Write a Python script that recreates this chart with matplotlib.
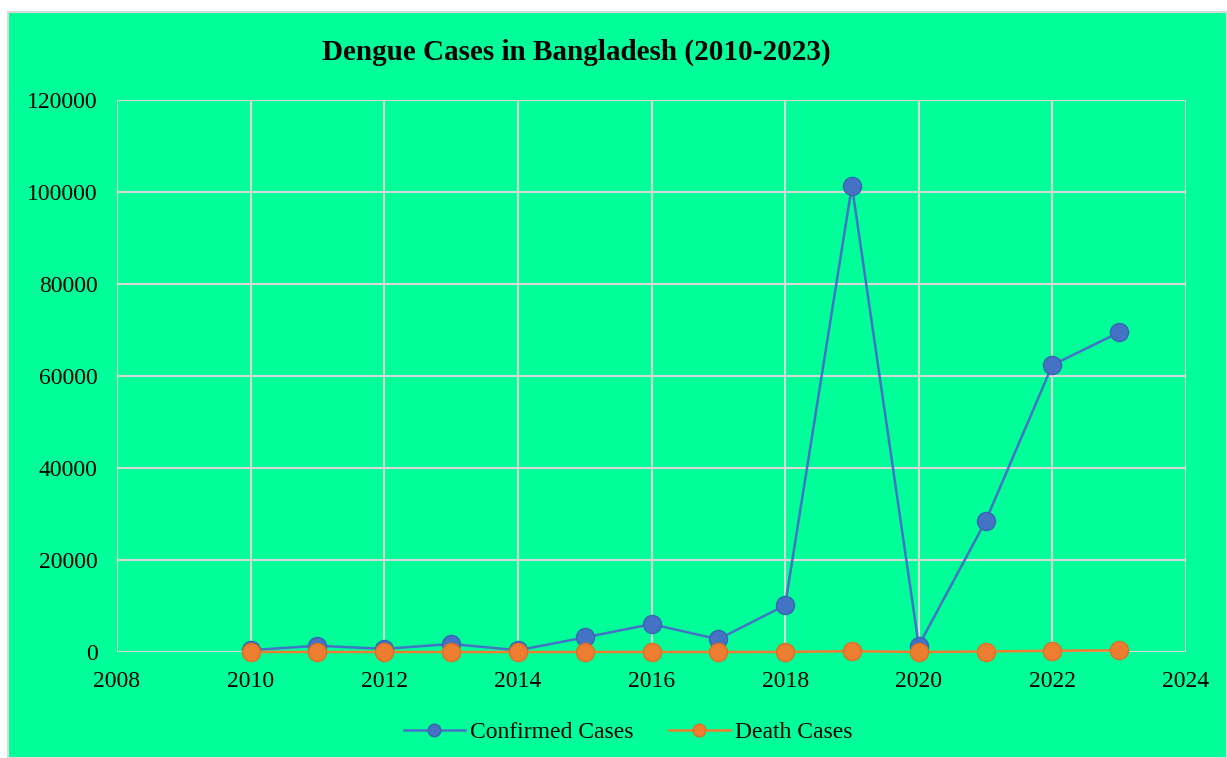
import matplotlib.pyplot as plt
from matplotlib.patches import Rectangle

years = [2010, 2011, 2012, 2013, 2014, 2015, 2016, 2017, 2018, 2019, 2020, 2021, 2022, 2023]
confirmed = [409, 1359, 671, 1749, 375, 3162, 6060, 2769, 10148, 101354, 1405, 28429, 62382, 69483]
deaths = [0, 6, 1, 2, 0, 6, 14, 8, 26, 179, 7, 105, 281, 348]

x_ticks = list(range(2008, 2025, 2))
y_ticks = list(range(0, 120001, 20000))

BG = '#00FF99'
GRID = '#D9D9D9'

plt.rcParams['font.family'] = ['Liberation Serif', 'DejaVu Serif']

fig = plt.figure(figsize=(12.27, 7.58), dpi=100)
fig.patch.set_facecolor('white')
# green chart area with a thin grey frame
fig.patches.append(Rectangle((8 / 1227, 0), 1 - 8 / 1227, 1 - 12 / 758,
                             transform=fig.transFigure, facecolor=BG,
                             edgecolor=GRID, linewidth=1.5, zorder=-1))

ax = fig.add_axes([117 / 1227, 1 - 652 / 758, (1186 - 117) / 1227, (652 - 100) / 758])
ax.set_facecolor(BG)

ax.plot(years, confirmed, color='#4472C4', lw=1.8, marker='o', ms=13,
        markeredgecolor='#3A64B0', label='Confirmed Cases', zorder=3, clip_on=False)
ax.plot(years, deaths, color='#ED7D31', lw=1.8, marker='o', ms=13,
        markeredgecolor='#DD6F25', label='Death Cases', zorder=4, clip_on=False)

ax.set_xlim(2008, 2024)
ax.set_ylim(0, 120000)
ax.set_xticks(x_ticks)
ax.set_yticks(y_ticks)
ax.grid(True, color=GRID, linewidth=1.5)
ax.set_axisbelow(True)
for s in ax.spines.values():
    s.set_visible(False)
ax.tick_params(length=0, labelsize=17)
ax.tick_params(axis='x', pad=14)
ax.tick_params(axis='y', pad=14)

fig.text(576 / 1227, 1 - 52 / 758, 'Dengue Cases in Bangladesh (2010-2023)',
         ha='center', va='center', fontsize=21, fontweight='bold')

fig.legend(loc='center', bbox_to_anchor=(628 / 1227, 1 - 732 / 758), ncol=2,
           frameon=False, fontsize=17, handlelength=2.6, columnspacing=1.5,
           handletextpad=0.2, markerscale=0.7)

fig.savefig('out.png', dpi=100, facecolor=fig.get_facecolor())
